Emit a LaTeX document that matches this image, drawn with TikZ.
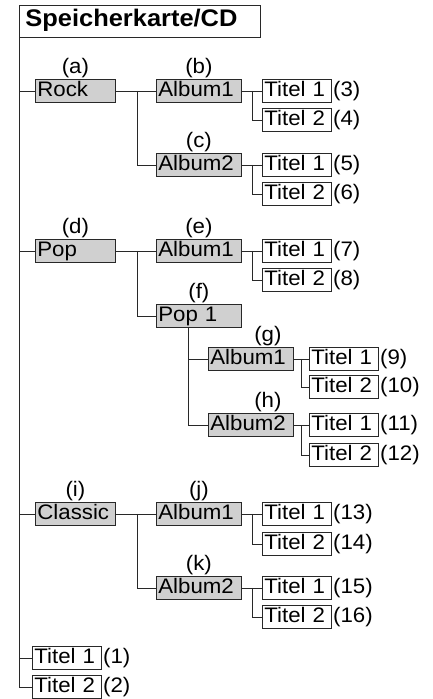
\documentclass[tikz,border=0pt]{standalone}
\usepackage{fontspec}
\setmainfont[FakeStretch=1.06]{Liberation Sans}
\usepackage{tikz}
\definecolor{boxgray}{RGB}{208,208,208}
\definecolor{linegray}{RGB}{40,40,40}
\tikzset{
    cardtree/.style={
        x=1pt, y=-1pt, color=linegray,
        every node/.style={font=\fontsize{21}{23}\selectfont, text=black},
        every label/.style={inner sep=1pt},
        entry/.style={draw=linegray, line width=0.8pt, anchor=north west,
            align=left, inner xsep=2pt, inner ysep=2pt,
            text height=15pt, text depth=4pt},
        dir/.style={entry, fill=boxgray, text width=81pt},
        topdir/.style={dir, text width=76pt},
        song/.style={entry, fill=white, text width=65pt},
        every path/.style={line width=0.8pt},
    },
}

\begin{document}
\begin{tikzpicture}[cardtree]
            \useasboundingbox (0,0) rectangle (433,699);
            \node[entry, text width=229pt, inner xsep=6pt, minimum height=32pt,
                  font=\fontsize{24}{26}\selectfont\bfseries] (card) at (19,5) {Speicherkarte/CD};

            \node[topdir, label=above:(a)] (rock) at (35,79)  {Rock};
            \node[dir,    label=above:(b)] (ra1)  at (156,79) {Album1};
            \node[song,   label=right:(3)] (rt1)  at (262,79) {Titel 1};
            \node[song,   label=right:(4)] (rt2)  at (262,108) {Titel 2};
            \node[dir,    label=above:(c)] (ra2)  at (156,153) {Album2};
            \node[song,   label=right:(5)] (rt3)  at (262,153) {Titel 1};
            \node[song,   label=right:(6)] (rt4)  at (262,182) {Titel 2};

            \node[topdir, label=above:(d)] (pop)  at (35,239)  {Pop};
            \node[dir,    label=above:(e)] (pa1)  at (156,239) {Album1};
            \node[song,   label=right:(7)] (pt1)  at (262,239) {Titel 1};
            \node[song,   label=right:(8)] (pt2)  at (262,268) {Titel 2};
            \node[dir,    label=above:(f)] (pop1) at (156,304) {Pop 1};
            \node[dir,    label={[xshift=17pt]above:(g)}] (pa2) at (208,347) {Album1};
            \node[song,   label=right:(9)] (pt3)  at (309,347) {Titel 1};
            \node[song,   label=right:(10)] (pt4) at (309,375) {Titel 2};
            \node[dir,    label={[xshift=17pt]above:(h)}] (pa3) at (208,413) {Album2};
            \node[song,   label=right:(11)] (pt5) at (309,413) {Titel 1};
            \node[song,   label=right:(12)] (pt6) at (309,443) {Titel 2};

            \node[topdir, label=above:(i)] (cla)  at (35,502)  {Classic};
            \node[dir,    label=above:(j)] (ca1)  at (156,502) {Album1};
            \node[song,   label=right:(13)] (ct1) at (262,502) {Titel 1};
            \node[song,   label=right:(14)] (ct2) at (262,532) {Titel 2};
            \node[dir,    label=above:(k)] (ca2)  at (156,576) {Album2};
            \node[song,   label=right:(15)] (ct3) at (262,576) {Titel 1};
            \node[song,   label=right:(16)] (ct4) at (262,605) {Titel 2};

            \node[song,   label=right:(1)] (t1)   at (32,646) {Titel 1};
            \node[song,   label=right:(2)] (t2)   at (32,675) {Titel 2};

            % trunk and top level
            \draw (card.south west) |- (t2.west);
            \draw (card.south west |- rock.west) -- (rock.west);
            \draw (card.south west |- pop.west) -- (pop.west);
            \draw (card.south west |- cla.west) -- (cla.west);
            \draw (card.south west |- t1.west) -- (t1.west);

            % Rock
            \draw (rock.east) -- (ra1.west);
            \draw ([xshift=22pt]rock.east) |- (ra2.west);
            \draw (ra1.east) -- (rt1.west);
            \draw ([xshift=11pt]ra1.east) |- (rt2.west);
            \draw (ra2.east) -- (rt3.west);
            \draw ([xshift=11pt]ra2.east) |- (rt4.west);

            % Pop
            \draw (pop.east) -- (pa1.west);
            \draw ([xshift=22pt]pop.east) |- (pop1.west);
            \draw (pa1.east) -- (pt1.west);
            \draw ([xshift=11pt]pa1.east) |- (pt2.west);
            \draw ([xshift=32pt]pop1.south west) |- (pa3.west);
            \draw ([xshift=32pt]pop1.south west |- pa2.west) -- (pa2.west);
            \draw (pa2.east) -- (pt3.west);
            \draw ([xshift=8pt]pa2.east) |- (pt4.west);
            \draw (pa3.east) -- (pt5.west);
            \draw ([xshift=8pt]pa3.east) |- (pt6.west);

            % Classic
            \draw (cla.east) -- (ca1.west);
            \draw ([xshift=22pt]cla.east) |- (ca2.west);
            \draw (ca1.east) -- (ct1.west);
            \draw ([xshift=11pt]ca1.east) |- (ct2.west);
            \draw (ca2.east) -- (ct3.west);
            \draw ([xshift=11pt]ca2.east) |- (ct4.west);
        \end{tikzpicture}
\end{document}
